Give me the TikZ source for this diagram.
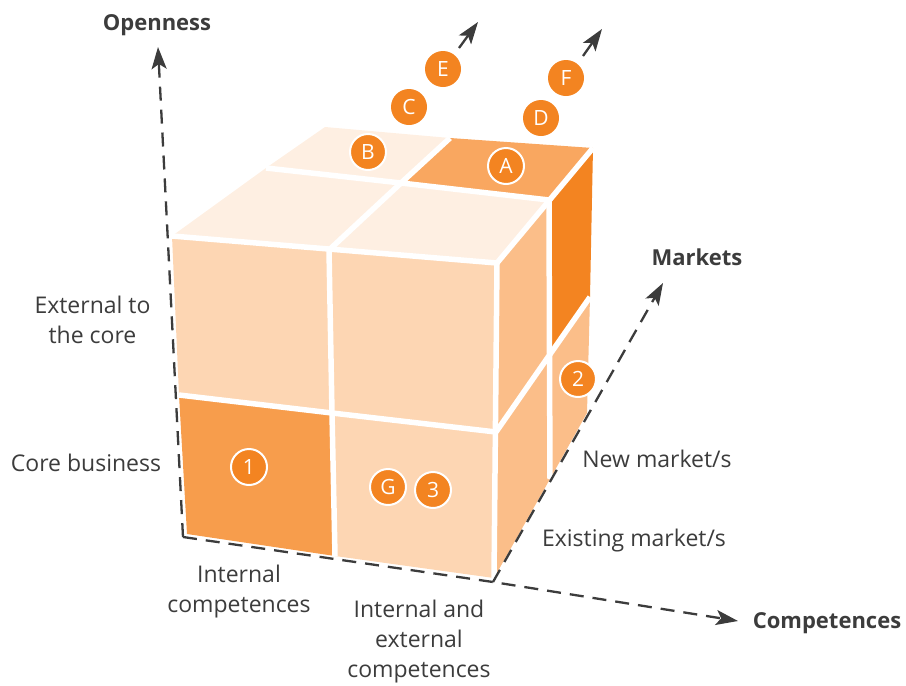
\documentclass[tikz,border=0pt]{standalone}
\usepackage{fontspec}
\setmainfont{Open Sans}
\usetikzlibrary{arrows.meta}
\definecolor{toplight}{HTML}{FEEFE2}
\definecolor{frontc}{HTML}{FDD6B3}
\definecolor{rightc}{HTML}{FBBE89}
\definecolor{midor}{HTML}{F79D4C}
\definecolor{acell}{HTML}{F9A760}
\definecolor{darkor}{HTML}{F38421}
\definecolor{txt}{HTML}{3C3C3C}
\begin{document}
\begin{tikzpicture}[x=1pt,y=-1pt,
  divider/.style={white,line width=5.5pt,line join=round},
  axis/.style={txt,line width=2.3pt,dash pattern=on 14pt off 9pt,-{Stealth[length=22pt,width=15pt,inset=5pt]}},
  stub/.style={txt,line width=2.3pt,-{Stealth[length=22pt,width=15pt,inset=5pt]}},
  circ/.style={circle,fill=darkor,draw=white,line width=2pt,minimum size=36pt,inner sep=0pt,text=white,font=\fontsize{21}{21}\selectfont},
  lab/.style={text=txt,align=center,font=\fontsize{23}{30}\selectfont},
  axlab/.style={text=txt,font=\fontsize{22}{26}\selectfont\bfseries}]
\useasboundingbox (0,0) rectangle (906,686);
% top face
\coordinate (TFL) at (172,236);
\coordinate (TLM) at (266,168);
\coordinate (TBL) at (325,127);
\coordinate (TBM) at (450,138);
\coordinate (TBR) at (593,148);
\coordinate (TRM) at (549,200);
\coordinate (TFR) at (497,263);
\coordinate (FTM) at (329,250);
\coordinate (TC) at (401,183);
% front face
\coordinate (FLM) at (179,395);
\coordinate (FC) at (332,413);
\coordinate (FRM) at (496,432);
\coordinate (FBL) at (187,534);
\coordinate (FBM) at (335,556);
\coordinate (FBR) at (494,578);
% right face
\coordinate (RC) at (549.5,355);
\coordinate (RBM) at (590,297);
\coordinate (RBB) at (587,413);
\coordinate (RBotM) at (550,479);
% fills
\fill[toplight] (TFL) -- (TLM) -- (TC) -- (FTM) -- cycle;
\fill[toplight] (TLM) -- (TBL) -- (TBM) -- (TC) -- cycle;
\fill[acell] (TC) -- (TBM) -- (TBR) -- (TRM) -- cycle;
\fill[toplight] (FTM) -- (TC) -- (TRM) -- (TFR) -- cycle;
\fill[frontc] (TFL) -- (FTM) -- (FC) -- (FLM) -- cycle;
\fill[frontc] (FTM) -- (TFR) -- (FRM) -- (FC) -- cycle;
\fill[midor] (FLM) -- (FC) -- (FBM) -- (FBL) -- cycle;
\fill[frontc] (FC) -- (FRM) -- (FBR) -- (FBM) -- cycle;
\fill[rightc] (TFR) -- (TRM) -- (RC) -- (FRM) -- cycle;
\fill[darkor] (TRM) -- (TBR) -- (RBM) -- (RC) -- cycle;
\fill[rightc] (FRM) -- (RC) -- (RBotM) -- (FBR) -- cycle;
\fill[rightc] (RC) -- (RBM) -- (RBB) -- (RBotM) -- cycle;
% white dividers
\draw[divider] (TFL) -- (TFR) -- (TBR);
\draw[divider] (TFR) -- (FBR);
\draw[divider] (TLM) -- (TC) -- (TRM);
\draw[divider] (FTM) -- (TC) -- (TBM);
\draw[divider] (FTM) -- (FC) -- (FBM);
\draw[divider] (FLM) -- (FC) -- (FRM);
\draw[divider] (TRM) -- (RC) -- (RBotM);
\draw[divider] (FRM) -- (RC) -- (RBM);
% axes
\coordinate (O) at (183,537);
\coordinate (OpenTip) at (158,47);
\coordinate (BC) at (493,582);
\coordinate (CompTip) at (738,621);
\coordinate (MarkTip) at (663,283);
\draw[axis] (O) -- (OpenTip);
\draw[axis] (O) -- (BC) -- (CompTip);
\draw[axis] (BC) -- (MarkTip);
% circles
\node[circ] (cB) at (368,152) {B};
\node[circ] (cA) at (506,166) {A};
\node[circ,draw=none] (cC) at (409,107) {C};
\node[circ,draw=none] (cE) at (443,69) {E};
\node[circ,draw=none] (cD) at (541,118) {D};
\node[circ,draw=none] (cF) at (566,78) {F};
\node[circ] (c1) at (249,467) {1};
\node[circ] (cG) at (388,487) {G};
\node[circ] (c3) at (433,490) {3};
\node[circ] (c2) at (578,379) {2};
\coordinate (Etail) at (459,48);
\coordinate (Etip) at (478,22);
\coordinate (Ftail) at (583,56);
\coordinate (Ftip) at (602,29);
\draw[stub] (Etail) -- (Etip);
\draw[stub] (Ftail) -- (Ftip);
% labels
\node[axlab] (lOpen) at (157,25) {Openness};
\node[axlab] (lMark) at (697,257) {Markets};
\node[axlab] (lComp) at (827,623) {Competences};
\node[lab] (lExt) at (92.5,320) {External to\\the core};
\node[lab] (lCore) at (86,463) {Core business};
\node[lab] (lInt) at (239,592) {Internal\\competences};
\node[lab] (lIntExt) at (419,642) {Internal and\\external\\competences};
\node[lab] (lNew) at (657,459) {New market/s};
\node[lab] (lExist) at (634,541) {Existing market/s};
\end{tikzpicture}
\end{document}
